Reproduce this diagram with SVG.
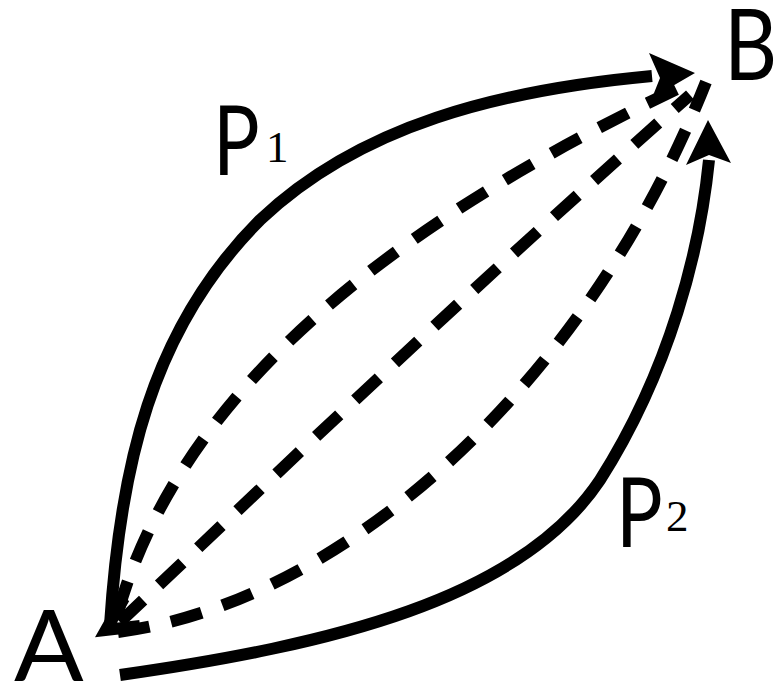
<svg xmlns="http://www.w3.org/2000/svg" width="779" height="682" viewBox="0 0 779 682">
<style>
.solid{fill:none;stroke:#000;stroke-width:12}
.dash{fill:none;stroke:#000;stroke-width:12;stroke-dasharray:32 22}
.head{fill:#000;stroke:none}
.lbl{font-family:"Lato","Liberation Sans",sans-serif;fill:#000}
.sub{font-family:"Liberation Serif",serif;fill:#000}
</style>
<rect width="779" height="682" fill="#fff"/>
<g id="connectors">
<path class="solid" d="M110,625 C120,470 150,330 260,220 C360,125 500,90 652,76"/>
<polygon class="head" points="695,73 649,53 660,78 652,98"/>
<path class="solid" d="M120,675 C330,645 520,600 600,480 C670,370 700,250 709,160"/>
<polygon class="head" points="708,120 686,165 709,155 731,163"/>
<path class="dash" d="M118,612 C170,430 330,250 690,83"/>
<path class="dash" d="M120,622 C280,470 480,280 690,95"/>
<path class="dash" d="M118,632 C330,605 580,400 706,82"/>
<path class="solid" d="M124,598 L106,630 L140,626" stroke-linejoin="miter"/>
</g>
<g id="node-A"><text class="lbl" x="0" y="0" font-size="98" transform="translate(14,681) scale(1.05,1)">A</text></g>
<g id="node-B"><text class="lbl" x="0" y="0" font-size="98" transform="translate(724,80) scale(0.84,1)">B</text></g>
<g id="label-p1"><text class="lbl" x="0" y="0" font-size="96" transform="translate(213,175) scale(0.81,1)">P</text><text class="sub" x="266" y="162" font-size="45">1</text></g>
<g id="label-p2"><text class="lbl" x="0" y="0" font-size="96" transform="translate(616,547) scale(0.81,1)">P</text><text class="sub" x="666" y="531" font-size="45">2</text></g>
</svg>
